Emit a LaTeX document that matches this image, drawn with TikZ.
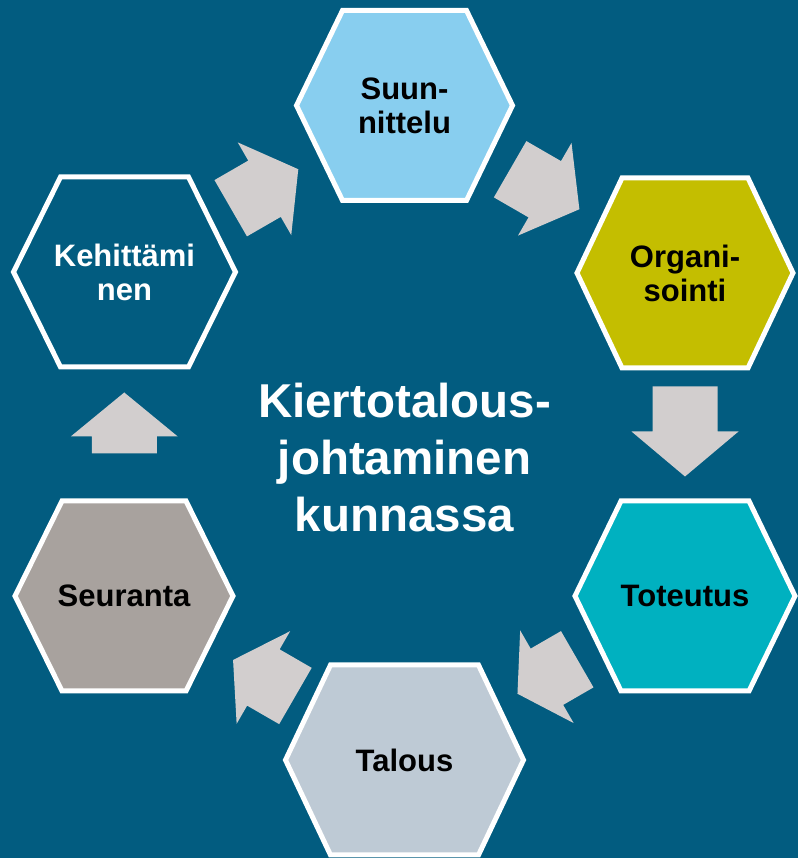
\documentclass[tikz,border=0pt]{standalone}
\usepackage{fontspec}
\setmainfont{Liberation Sans}
\usetikzlibrary{calc}
\definecolor{bgblue}{RGB}{2,92,128}
\definecolor{arrowgray}{RGB}{210,206,206}
\definecolor{suuncol}{RGB}{136,206,239}
\definecolor{organcol}{RGB}{196,190,0}
\definecolor{totecol}{RGB}{0,177,192}
\definecolor{talocol}{RGB}{190,202,213}
\definecolor{seurcol}{RGB}{168,162,158}
\begin{document}
\begin{tikzpicture}[x=1pt, y=1pt,
        hexline/.style={draw=white, line width=5pt, line join=miter},
        hextext/.style={font=\bfseries\fontsize{31}{34}\selectfont, align=center},
        blockarrow/.style={fill=arrowgray}]
        \fill[bgblue] (0,0) rectangle (798,858);
        \useasboundingbox (0,0) rectangle (798,858);
        \foreach \name/\x/\y/\w/\t/\col/\txt/\lbl in {
            suun/404.5/752.5/108/62/suuncol/black/{Suun-\\nittelu},
            organ/685/585/108/63/organcol/black/{Organi-\\sointi},
            tote/685/262/110/64/totecol/black/{Toteutus},
            talo/404.5/98/119/74/talocol/black/{Talous},
            seur/124/262/109/62/seurcol/black/{Seuranta},
            kehi/124.5/586/111/64/bgblue/white/{Kehittämi\\nen}} {
            \filldraw[hexline, fill=\col] (\x-\w,\y) -- (\x-\t,\y+95) -- (\x+\t,\y+95)
                -- (\x+\w,\y) -- (\x+\t,\y-95) -- (\x-\t,\y-95) -- cycle;
            \node[hextext, text=\txt] (\name) at (\x,\y) {\lbl};
        }
        \foreach \a/\b/\ang/\len/\hd/\off in {
            kehi/suun/30/78/39/0, suun/organ/-30/80/40/0, organ/tote/-90/90/45/-3,
            tote/talo/-150/69/34/-3, talo/seur/150/72/35/0, seur/kehi/90/61/44/11} {
            \fill[blockarrow, shift={($(\a)!0.5!(\b)$)}, rotate=\ang]
                (\off-\len/2,-32.5) -- (\off+\len/2-\hd,-32.5) -- (\off+\len/2-\hd,-53.5)
                -- (\off+\len/2,0) -- (\off+\len/2-\hd,53.5) -- (\off+\len/2-\hd,32.5)
                -- (\off-\len/2,32.5) -- cycle;
        }
        \node[font=\bfseries\fontsize{47.5}{57}\selectfont, text=white, align=center] (title)
            at (404.5,400) {Kiertotalous-\\johtaminen\\kunnassa};
    \end{tikzpicture}
\end{document}
